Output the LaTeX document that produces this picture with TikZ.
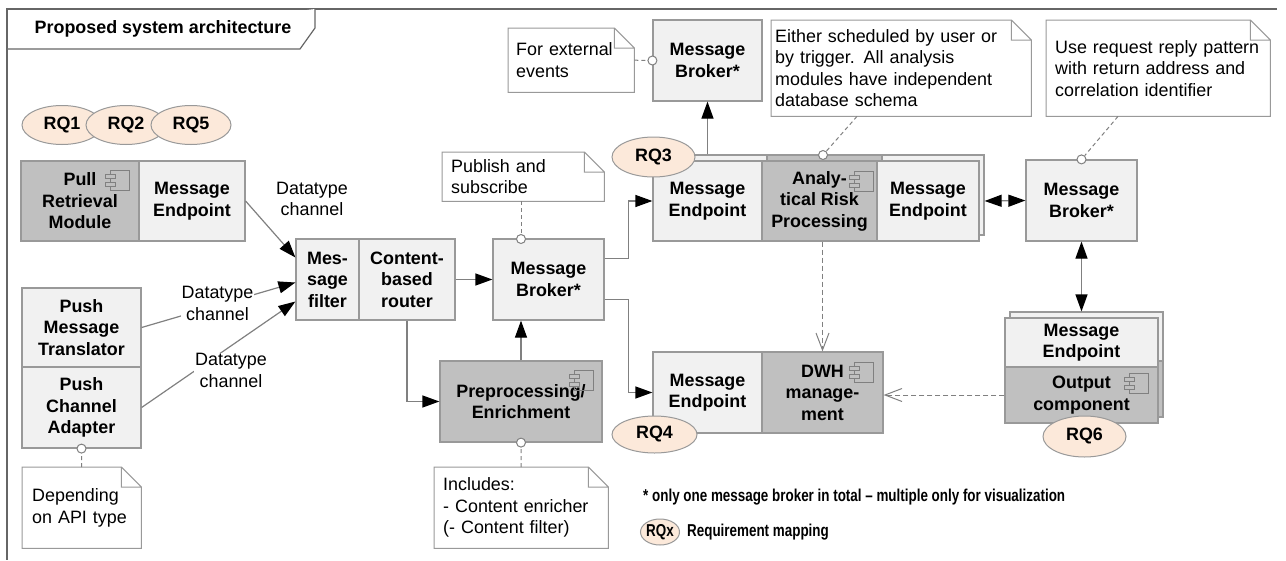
\documentclass[tikz,border=0pt]{standalone}
\usepackage{fontspec}
\setmainfont{Liberation Sans}
\newfontfamily\narrowfont{Liberation Sans}[FakeStretch=0.78]
\usetikzlibrary{shapes.geometric,arrows.meta,calc}
\definecolor{lightfill}{HTML}{F1F1F1}
\definecolor{darkfill}{HTML}{C0C0C0}
\definecolor{boxline}{HTML}{999999}
\definecolor{conline}{HTML}{808080}
\definecolor{rqfill}{HTML}{FCE9DA}
\definecolor{framecol}{HTML}{666666}
\newcommand\mainfs{\fontsize{17.9}{21.5}\selectfont}
\newcommand\legfs{\fontsize{17.2}{19}\narrowfont\bfseries}
\tikzset{
  lbox/.style={draw=boxline, line width=1.2pt, fill=lightfill, inner sep=0pt, align=center, font=\mainfs\bfseries},
  dbox/.style={lbox, fill=darkfill},
  rq/.style={ellipse, draw=boxline, line width=1pt, fill=rqfill, inner sep=0pt, font=\mainfs\bfseries},
  notebox/.style={fill=white, inner ysep=0pt, align=left, font=\mainfs, anchor=north west},
  notebd/.style={draw=boxline, line width=1pt},
  lbl/.style={font=\mainfs, align=center, inner sep=1pt},
  arr/.style={draw=conline, line width=1.2pt, -{Triangle[length=17pt,width=12pt,color=black]}},
  darr/.style={draw=conline, line width=1.2pt, {Triangle[length=17pt,width=12pt,color=black]}-{Triangle[length=17pt,width=12pt,color=black]}},
  dep/.style={draw=conline, line width=1pt, dash pattern=on 5pt off 3pt, -{Straight Barb[length=17pt,width=13pt,color=conline]}},
  nlink/.style={draw=conline, line width=1pt, dash pattern=on 4pt off 3pt},
  knob/.style={circle, draw=conline, fill=white, line width=1pt, minimum size=9pt, inner sep=0pt},
  icon/.style={draw=conline, line width=0.9pt},
  framest/.style={draw=framecol, line width=1.2pt},
}
\newcommand\compIcon[2]{%
  \begin{scope}[shift={(#1,#2)}]
    \draw[icon] (-19,0) rectangle (0,20);
    \draw[icon, fill=darkfill] (-24,4) rectangle (-14,8);
    \draw[icon, fill=darkfill] (-24,12) rectangle (-14,16);
  \end{scope}}
\newcommand\noteFold[1]{%
  \draw[notebd] (#1.north west) -- ([xshift=-20pt]#1.north east) -- ([yshift=-20pt]#1.north east) -- (#1.south east) -- (#1.south west) -- cycle
    ([xshift=-20pt]#1.north east) |- ([yshift=-20pt]#1.north east);}
\begin{document}
\begin{tikzpicture}[x=1pt,y=-1pt]
\useasboundingbox (0,0) rectangle (1286,560);
% frame and title tab
\draw[framest] (1277,9) -- (7,9) -- (7,560);
\draw[framest, fill=white] (7,49) -- (300,49) -- (315,28) -- (315,9);
\node[font=\mainfs\bfseries] (title) at (163,29) {Proposed system architecture};

% left column
\node[dbox, minimum width=118, minimum height=80] (pullMod) at (80,201) {Pull\\Retrieval\\Module};
\node[lbox, minimum width=106, minimum height=80] (pullME) at (192,201) {Message\\Endpoint};
\node[lbox, minimum width=119, minimum height=79] (trans) at (81.5,327.5) {Push\\Message\\Translator};
\node[lbox, minimum width=119, minimum height=81] (adapt) at (81.5,407.5) {Push\\Channel\\Adapter};

% filter/router/broker
\node[lbox, minimum width=63, minimum height=81] (filter) at (327.5,279.5) {Mes-\\sage\\filter};
\node[lbox, minimum width=96, minimum height=81] (router) at (407,279.5) {Content-\\based\\router};
\node[lbox, minimum width=111, minimum height=81] (broker) at (548.5,279.5) {Message\\Broker*};
\node[dbox, minimum width=162, minimum height=81] (preproc) at (521,401.5) {Preprocessing/\\Enrichment};

% top broker
\node[lbox, minimum width=109, minimum height=81] (topBroker) at (707.5,60.5) {Message\\Broker*};

% analytical group (back copy then front)
\node[lbox, minimum width=109, minimum height=80] (topMEb) at (712.5,195) {};
\node[dbox, minimum width=115, minimum height=80] (anab) at (824.5,195) {};
\node[lbox, minimum width=102, minimum height=80] (rightMEb) at (933,195) {};
\node[lbox, minimum width=109, minimum height=80] (topME) at (707.5,201) {Message\\Endpoint};
\node[dbox, minimum width=115, minimum height=80] (ana) at (819.5,201) {Analy-\\tical Risk\\Processing};
\node[lbox, minimum width=102, minimum height=80] (rightME) at (928,201) {Message\\Endpoint};

% right broker
\node[lbox, minimum width=111, minimum height=81] (rightBroker) at (1081.5,200.5) {Message\\Broker*};

% bottom group
\node[lbox, minimum width=109, minimum height=81] (botME) at (707.5,392.5) {Message\\Endpoint};
\node[dbox, minimum width=121, minimum height=81] (dwh) at (822.5,392.5) {DWH\\manage-\\ment};

% output stack
\node[lbox, minimum width=153, minimum height=49] (outMEb) at (1086.5,336.5) {};
\node[dbox, minimum width=153, minimum height=56] (outCompb) at (1086.5,389) {};
\node[lbox, minimum width=153, minimum height=49] (outME) at (1081.5,342.5) {Message\\Endpoint};
\node[dbox, minimum width=153, minimum height=56] (outComp) at (1081.5,395) {Output\\component};

% component icons
\compIcon{129}{170}
\compIcon{873}{171}
\compIcon{593}{370}
\compIcon{873}{362}
\compIcon{1148}{373}

% connectors
\draw[arr] (pullME.east) -- ([yshift=22pt]filter.west);
\draw[arr] (trans.east) -- ([yshift=-3pt]filter.west);
\draw[arr] (adapt.east) -- ([yshift=-22pt]filter.west);
\node[lbl] (dt1) at (312,199) {Datatype\\channel};
\node[lbl, fill=white] (dt2) at (217.5,303.5) {Datatype\\channel};
\node[lbl, fill=white] (dt3) at (231,370.5) {Datatype\\channel};

\draw[arr] (router.east) -- (broker.west);
\draw[arr] (router.south) |- (preproc.west);
\draw[arr] (preproc.north) -- (preproc.north |- broker.south);
\draw[arr] ([yshift=21pt]broker.east) -- ++(24,0) |- (topME.west);
\draw[arr] ([yshift=-20pt]broker.east) -- ++(24,0) |- (botME.west);
\draw[arr] (topBroker.south |- topMEb.north) -- (topBroker.south);
\draw[darr] (rightMEb.east |- rightME.east) -- (rightBroker.west);
\draw[darr] (rightBroker.south) -- (rightBroker.south |- outMEb.north);
\draw[dep] (outComp.west) -- (outComp.west -| dwh.east);
\draw[dep] (dwh.north |- ana.south) -- (dwh.north);

% RQ ellipses
\node[rq, minimum width=80, minimum height=39] (rq1) at (62,125) {RQ1};
\node[rq, minimum width=80, minimum height=39] (rq2) at (126,125) {RQ2};
\node[rq, minimum width=80, minimum height=39] (rq5) at (191,125) {RQ5};
\node[rq, minimum width=83, minimum height=40] (rq3) at (653.5,157) {RQ3};
\node[rq, minimum width=85, minimum height=37] (rq4) at (654.5,434.5) {RQ4};
\node[rq, minimum width=83, minimum height=41] (rq6) at (1084.5,436.5) {RQ6};

% notes
\node[notebox, minimum width=126, minimum height=64, text width=110, inner xsep=8pt] (extnote) at (508,28) {For external\\events};
\noteFold{extnote}
\node[notebox, minimum width=162, minimum height=49, text width=144, inner xsep=9pt] (pubnote) at (442,152) {Publish and\\subscribe};
\noteFold{pubnote}
\node[notebox, minimum width=260, minimum height=96, text width=252, inner xsep=4pt] (eithernote) at (771,20) {Either scheduled by user or\\by trigger. All analysis\\modules have independent\\database schema};
\noteFold{eithernote}
\node[notebox, minimum width=224, minimum height=96, text width=206, inner xsep=9pt] (reqnote) at (1046,20) {Use request reply pattern\\with return address and\\correlation identifier};
\noteFold{reqnote}
\node[notebox, minimum width=119, minimum height=81, text width=99, inner xsep=10pt] (depnote) at (22,467) {Depending\\on API type};
\noteFold{depnote}
\node[notebox, minimum width=174, minimum height=81, text width=156, inner xsep=9pt] (incnote) at (434,467) {Includes:\\- Content enricher\\(- Content filter)};
\noteFold{incnote}

% knobs and note links
\node[knob] (k1) at (adapt.south) {};
\node[knob] (k2) at (521,239) {};
\node[knob] (k3) at (preproc.south) {};
\node[knob] (k4) at (topBroker.west) {};
\node[knob] (k5) at (823,155) {};
\node[knob] (k6) at (rightBroker.north) {};
\draw[nlink] (depnote.north) -- (k1);
\draw[nlink] (k2 |- pubnote.south) -- (k2);
\draw[nlink] (incnote.north) -- (k3);
\draw[nlink] (extnote.east) -- (k4);
\draw[nlink] ($(eithernote.south west)+(86,0)$) -- (k5);
\draw[nlink] ($(reqnote.south west)+(72,0)$) -- (k6);

% legend
\node[anchor=west, inner sep=0pt, font=\legfs] (legtxt) at (643,497) {* only one message broker in total – multiple only for visualization};
\node[rq, minimum width=34, minimum height=26, font=\legfs] (rqx) at (660,532) {RQx};
\node[anchor=west, inner sep=0pt, font=\legfs] (legrq) at (687,532) {Requirement mapping};
\end{tikzpicture}
\end{document}
